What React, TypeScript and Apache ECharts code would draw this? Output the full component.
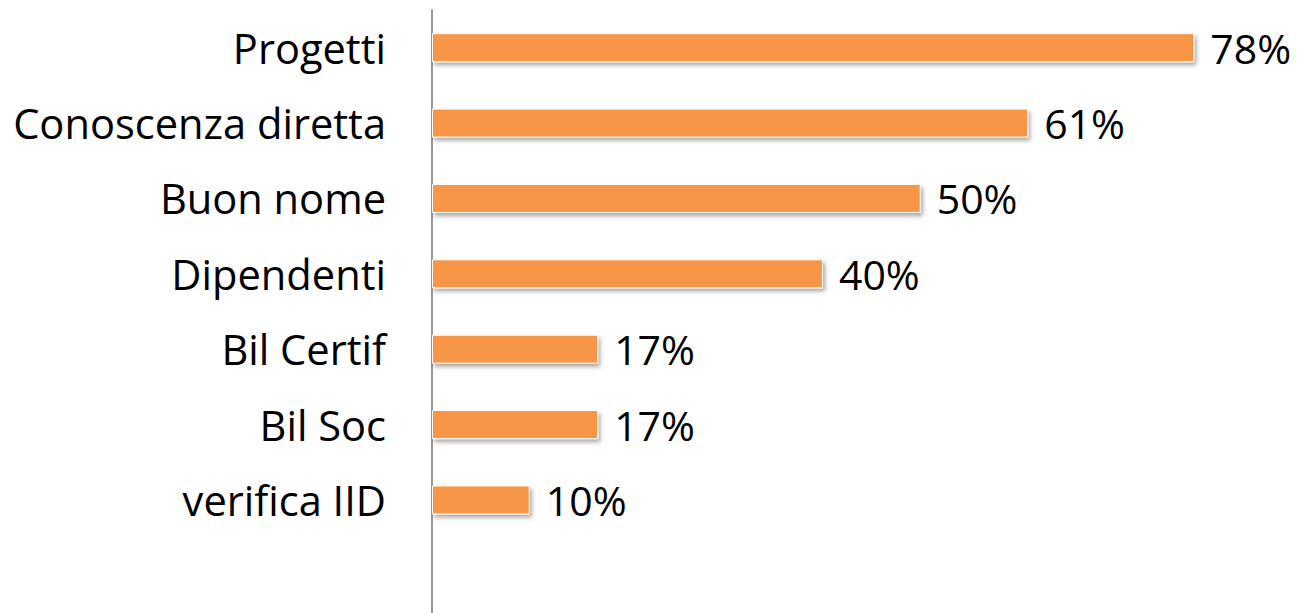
import React, { useEffect, useRef } from "react";
import * as echarts from "echarts";

const categories = [
  "Progetti",
  "Conoscenza diretta",
  "Buon nome",
  "Dipendenti",
  "Bil Certif",
  "Bil Soc",
  "verifica IID",
];
const values = [78, 61, 50, 40, 17, 17, 10];

export default function App() {
  const ref = useRef<HTMLDivElement>(null);
  useEffect(() => {
    if (!ref.current) return;
    const chart = echarts.init(ref.current, null, { renderer: "svg" });
    chart.setOption({
      animation: false,
      backgroundColor: "#ffffff",
      grid: { left: 432, right: 0, top: 10, bottom: -5, containLabel: false },
      xAxis: {
        type: "value",
        min: 0,
        max: 88.5,
        show: false,
      },
      yAxis: {
        type: "category",
        data: categories,
        inverse: true,
        max: 7,
        axisLine: { show: true, lineStyle: { color: "#999999", width: 2 } },
        axisTick: { show: false },
        splitLine: { show: false },
        axisLabel: {
          margin: 46,
          fontSize: 41.6,
          color: "#000000",
          fontFamily: "Open Sans",
        },
      },
      series: [
        {
          type: "bar",
          data: values,
          barWidth: 29,
          itemStyle: {
            color: "#F79646",
            borderColor: "#ffffff",
            borderWidth: 1,
            shadowColor: "rgba(0,0,0,0.35)",
            shadowBlur: 4,
            shadowOffsetX: 2,
            shadowOffsetY: 3,
          },
          label: {
            show: true,
            position: "right",
            distance: 16,
            formatter: "{c}%",
            fontSize: 41,
            color: "#000000",
            fontFamily: "Open Sans",
          },
        },
      ],
    });
    return () => chart.dispose();
  }, []);
  return (
    <div
      ref={ref}
      style={{ position: "absolute", left: 0, top: 0, width: 1297, height: 613 }}
    />
  );
}
